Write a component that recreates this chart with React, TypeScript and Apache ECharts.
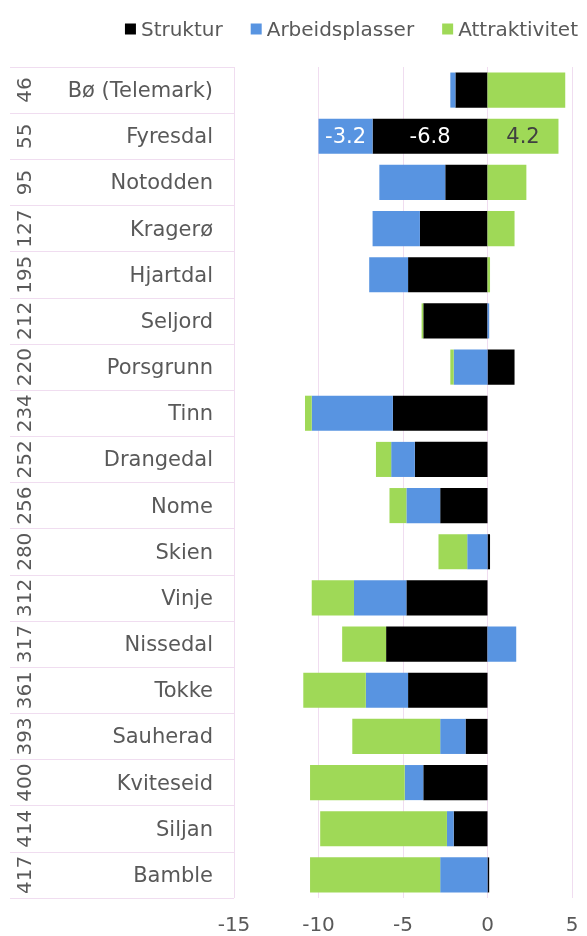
import React, { useEffect, useRef } from "react";
import * as echarts from "echarts";

const ranks = ["46", "55", "95", "127", "195", "212", "220", "234", "252", "256", "280", "312", "317", "361", "393", "400", "414", "417"];
const municipalities = ["Bø (Telemark)", "Fyresdal", "Notodden", "Kragerø", "Hjartdal", "Seljord", "Porsgrunn", "Tinn", "Drangedal", "Nome", "Skien", "Vinje", "Nissedal", "Tokke", "Sauherad", "Kviteseid", "Siljan", "Bamble"];
const struktur = [-1.9, -6.8, -2.5, -4.0, -4.7, -3.8, 1.6, -5.6, -4.3, -2.8, 0.15, -4.8, -6.0, -4.7, -1.3, -3.8, -2.0, 0.1];
const arbeidsplasser = [-0.3, -3.2, -3.9, -2.8, -2.3, 0.1, -2.0, -4.8, -1.4, -2.0, -1.2, -3.1, 1.7, -2.5, -1.5, -1.1, -0.4, -2.8];
const attraktivitet = [4.6, 4.2, 2.3, 1.6, 0.15, -0.1, -0.2, -0.4, -0.9, -1.0, -1.7, -2.5, -2.6, -3.7, -5.2, -5.6, -7.5, -7.7];
const labelledRow = "Fyresdal";

const FONT = "DejaVu Sans";
const TEXT = "#595959";
const GRID = "#F0DDF0";

export default function App() {
  const ref = useRef<HTMLDivElement>(null);
  useEffect(() => {
    if (!ref.current) return;
    const chart = echarts.init(ref.current, null, { renderer: "svg" });
    const li = municipalities.indexOf(labelledRow);
    const mk = (arr: number[], labelColor: string) =>
      arr.map((v, i) =>
        i === li
          ? { value: v, label: { show: true, position: "inside", color: labelColor, fontSize: 21, fontFamily: FONT } }
          : v
      );
    chart.setOption({
      animation: false,
      textStyle: { fontFamily: FONT },
      legend: {
        top: 14,
        right: 4,
        icon: "rect",
        itemWidth: 11,
        itemHeight: 11,
        itemGap: 28,
        textStyle: { color: TEXT, fontSize: 20, fontFamily: FONT },
        data: ["Struktur", "Arbeidsplasser", "Attraktivitet"],
      },
      grid: { left: 234, right: 15, top: 67, bottom: 38 },
      xAxis: {
        type: "value",
        min: -15,
        max: 5,
        interval: 5,
        axisLine: { show: false },
        axisTick: { show: false },
        axisLabel: { color: TEXT, fontSize: 20, fontFamily: FONT, margin: 16 },
        splitLine: { show: true, lineStyle: { color: GRID, width: 1 } },
      },
      yAxis: [
        {
          type: "category",
          inverse: true,
          position: "left",
          data: municipalities,
          axisLine: { show: false, onZero: false },
          axisTick: { show: true, interval: 0, length: 224, lineStyle: { color: GRID, width: 1 } },
          axisLabel: { interval: 0, color: TEXT, fontSize: 21, fontFamily: FONT, margin: 21 },
        },
        {
          type: "category",
          inverse: true,
          position: "left",
          data: ranks,
          axisLine: { show: false, onZero: false },
          axisTick: { show: false },
          axisLabel: { interval: 0, rotate: 90, color: TEXT, fontSize: 20, fontFamily: FONT, margin: 200 },
        },
      ],
      series: [
        {
          name: "Struktur",
          type: "bar",
          stack: "total",
          barCategoryGap: "24%",
          itemStyle: { color: "#000000" },
          data: mk(struktur, "#ffffff"),
        },
        {
          name: "Arbeidsplasser",
          type: "bar",
          stack: "total",
          barCategoryGap: "24%",
          itemStyle: { color: "#5894E1" },
          data: mk(arbeidsplasser, "#ffffff"),
        },
        {
          name: "Attraktivitet",
          type: "bar",
          stack: "total",
          barCategoryGap: "24%",
          itemStyle: { color: "#9FD957" },
          data: mk(attraktivitet, "#404040"),
        },
      ],
    });
    return () => chart.dispose();
  }, []);
  return <div ref={ref} style={{ position: "fixed", left: 0, top: 0, width: 587, height: 936 }} />;
}
